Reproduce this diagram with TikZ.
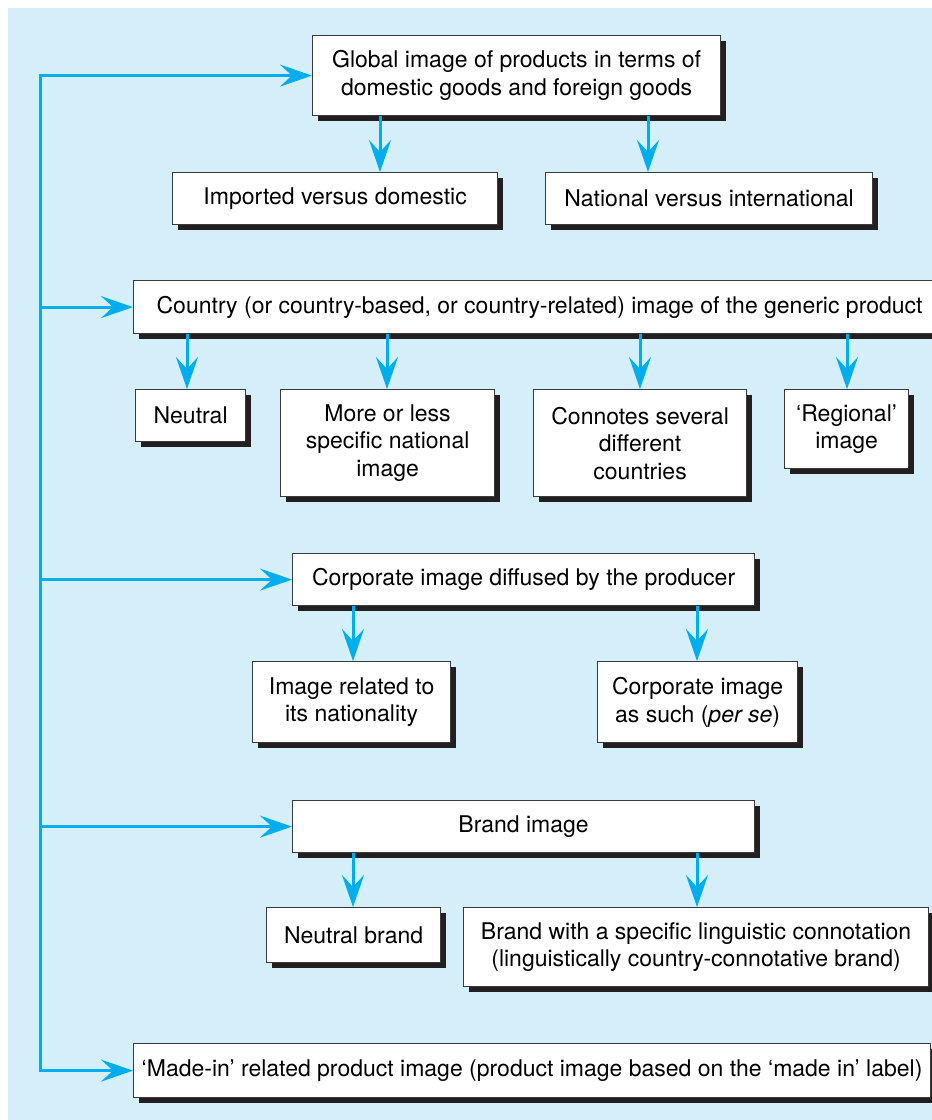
\documentclass[tikz,border=0pt]{standalone}
\usepackage{fontspec}
\setmainfont{TeX Gyre Heros}
\usetikzlibrary{arrows.meta,shadows}
\definecolor{panel}{HTML}{D4EEFA}
\definecolor{flow}{HTML}{00AEEF}
\definecolor{frame}{HTML}{3A3A3A}
\definecolor{shade}{HTML}{231F20}
\begin{document}
\begin{tikzpicture}[x=1pt,y=-1pt,
  box/.style={draw=frame, line width=1.2pt, fill=white, inner sep=0pt,
    align=center, anchor=north west,
    font=\fontsize{23}{27.5}\selectfont,
    drop shadow={shadow xshift=5pt, shadow yshift=-5pt, opacity=1, fill=shade}},
  flowline/.style={draw=flow, line width=3pt, line cap=rect},
  flowarrow/.style={draw=flow, line width=3pt,
    -{Stealth[length=32pt, width=22pt, inset=12pt]}}]
\useasboundingbox (0,0) rectangle (932,1120);
\fill[panel] (8,8) rectangle (940,1130);

% level 1: global image
\node[box, minimum width=408pt, minimum height=80pt] (global) at (312,35)
  {Global image of products in terms of\\domestic goods and foreign goods};
\node[box, minimum width=325pt, minimum height=52pt] (imp) at (172,172)
  {Imported versus domestic};
\node[box, minimum width=327pt, minimum height=52pt] (nat) at (545,172)
  {National versus international};

% level 2: country image
\node[box, minimum width=812pt, minimum height=53pt] (country) at (133,280)
  {Country (or country-based, or country-related) image of the generic product};
\node[box, minimum width=110pt, minimum height=52pt] (neutral) at (135,389)
  {Neutral};
\node[box, minimum width=214pt, minimum height=107pt] (more) at (280,389)
  {More or less\\specific national\\image};
\node[box, minimum width=213pt, minimum height=107pt] (conn) at (533,389)
  {Connotes several\\different\\countries};
\node[box, minimum width=124pt, minimum height=79pt] (reg) at (784,389)
  {`Regional'\\image};

% level 3: corporate image
\node[box, minimum width=462pt, minimum height=52pt] (corp) at (292,553)
  {Corporate image diffused by the producer};
\node[box, minimum width=198pt, minimum height=81pt] (natl) at (252,661)
  {Image related to\\its nationality};
\node[box, minimum width=200pt, minimum height=81pt] (perse) at (597,661)
  {Corporate image\\as such (\textit{per se})};

% level 4: brand image
\node[box, minimum width=462pt, minimum height=52pt] (brand) at (292,800)
  {Brand image};
\node[box, minimum width=174pt, minimum height=55pt] (nbrand) at (266,907)
  {Neutral brand};
\node[box, minimum width=465pt, minimum height=79pt] (bwith) at (463,907)
  {Brand with a specific linguistic connotation\\(linguistically country-connotative brand)};

% level 5: made-in image
\node[box, minimum width=797pt, minimum height=54pt] (madein) at (133,1043)
  {`Made-in' related product image (product image based on the `made in' label)};

% trunk feeding every level
\coordinate (trunk) at (40,0);
\draw[flowline] (global.west -| trunk) -- (madein.west -| trunk);
\foreach \n in {global,country,corp,brand,madein}
  \draw[flowarrow] (\n.west -| trunk) -- (\n.west);

% branches
\draw[flowarrow] (global.south -| 380,0) -- (imp.north -| 380,0);
\draw[flowarrow] (global.south -| 648,0) -- (nat.north -| 648,0);
\draw[flowarrow] (country.south -| 187,0) -- (neutral.north -| 187,0);
\draw[flowarrow] (country.south -| 387,0) -- (more.north -| 387,0);
\draw[flowarrow] (country.south -| 640,0) -- (conn.north -| 640,0);
\draw[flowarrow] (country.south -| 847,0) -- (reg.north -| 847,0);
\draw[flowarrow] (corp.south -| 353,0) -- (natl.north -| 353,0);
\draw[flowarrow] (corp.south -| 697,0) -- (perse.north -| 697,0);
\draw[flowarrow] (brand.south -| 353,0) -- (nbrand.north -| 353,0);
\draw[flowarrow] (brand.south -| 697,0) -- (bwith.north -| 697,0);
\end{tikzpicture}
\end{document}
